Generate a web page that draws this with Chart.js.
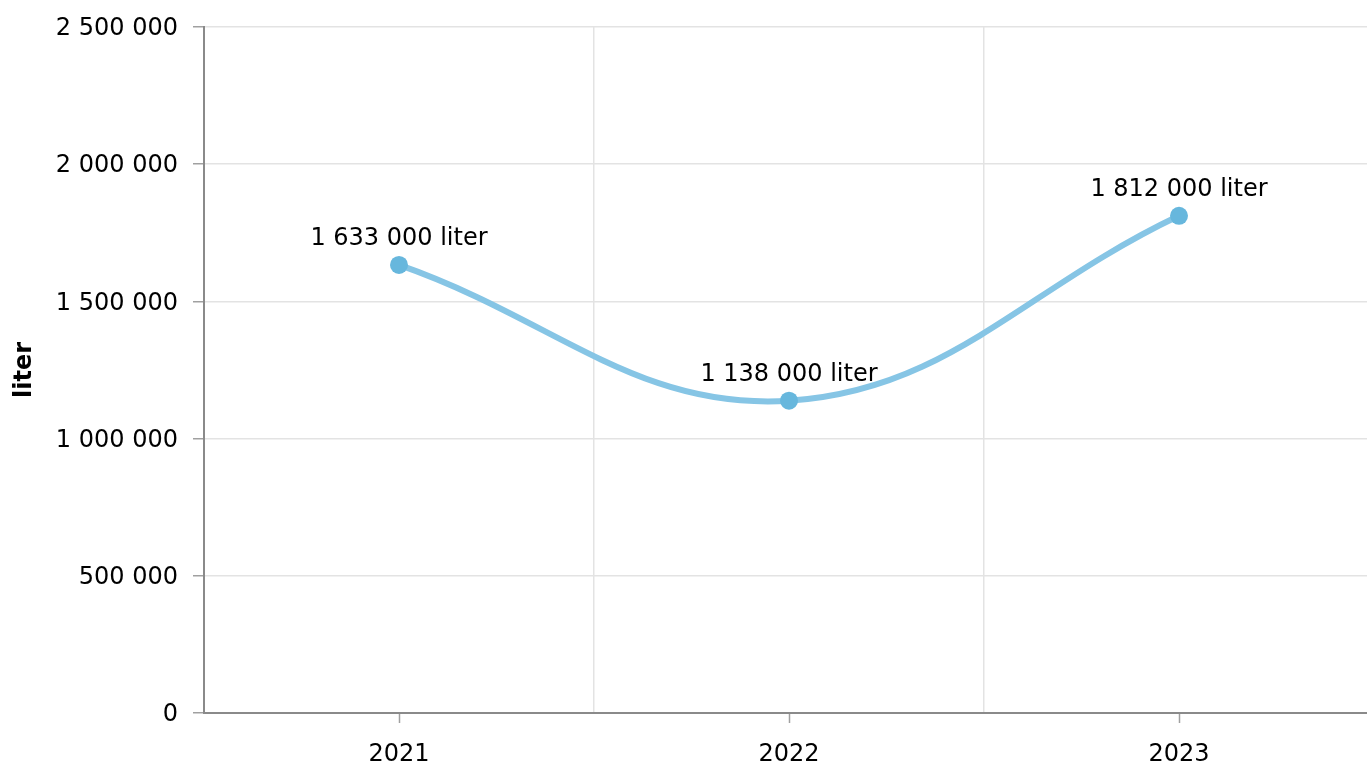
<!DOCTYPE html>
<html>
<head>
<meta charset="utf-8">
<script src="https://cdn.jsdelivr.net/npm/chart.js@4.4.1/dist/chart.umd.min.js"></script>
<style>
  html, body { margin: 0; padding: 0; background: #fff; overflow: hidden; }
  #container { position: relative; width: 1374px; height: 765px; }
</style>
</head>
<body>
<div id="container"><canvas id="graph"></canvas></div>
<script>
let years = ['2021', '2022', '2023'];
let volumes = [1633000, 1138000, 1812000];
let yTicks = [0, 500000, 1000000, 1500000, 2000000, 2500000];
let unit = 'liter';

function spaced(n) {
    return String(Math.round(n)).replace(/\B(?=(\d{3})+(?!\d))/g, ' ');
}

// labels above each point, placed from the point elements
const pointLabels = {
    id: 'pointLabels',
    afterDatasetsDraw(chart) {
        const ctx = chart.ctx;
        const meta = chart.getDatasetMeta(0);
        ctx.save();
        ctx.font = '24px "DejaVu Sans"';
        ctx.fillStyle = '#000';
        ctx.textAlign = 'center';
        ctx.textBaseline = 'middle';
        meta.data.forEach(function (pt, i) {
            ctx.fillText(spaced(volumes[i]) + ' ' + unit, pt.x, pt.y - 26);
        });
        ctx.restore();
    }
};

Chart.defaults.font.family = '"DejaVu Sans"';
Chart.defaults.font.size = 24;
Chart.defaults.color = '#000';

const ctx = document.getElementById('graph').getContext('2d');
const dataChart = new Chart(ctx, {
    type: 'line',
    data: {
        labels: years,
        datasets: [{
            label: unit,
            data: volumes,
            borderColor: '#86c5e5',
            borderWidth: 6,
            backgroundColor: '#67b7dd',
            pointBackgroundColor: '#67b7dd',
            pointBorderWidth: 0,
            pointRadius: 9,
            tension: 0.4,
            fill: false
        }]
    },
    options: {
        responsive: true,
        maintainAspectRatio: false,
        animation: false,
        // the plot runs a little past the right edge of the picture
        layout: { autoPadding: false, padding: { top: 27, right: 0, bottom: 0, left: 0 } },
        plugins: {
            legend: { display: false },
            tooltip: { enabled: false }
        },
        scales: {
            x: {
                type: 'category',
                offset: true,
                afterFit: function (scale) {
                    scale.height = 52;
                    scale.paddingLeft = 0;
                    scale.paddingRight = 0;
                },
                grid: {
                    offset: false,
                    drawOnChartArea: false,
                    drawTicks: true,
                    tickLength: 10,
                    tickColor: '#a0a0a0',
                    tickWidth: 1.5
                },
                border: { color: '#8a8a8a', width: 2 },
                ticks: { padding: 17, color: '#000' }
            },
            xgrid: {
                type: 'category',
                position: 'top',
                offset: true,
                afterFit: function (scale) {
                    scale.height = 0;
                    scale.paddingLeft = 0;
                    scale.paddingRight = 0;
                },
                grid: {
                    offset: true,
                    drawTicks: false,
                    color: '#e3e3e3',
                    lineWidth: 1.5
                },
                border: { display: false },
                ticks: { display: false }
            },
            y: {
                min: 0,
                max: 2500000,
                afterFit: function (scale) {
                    scale.width = 204;
                    scale.paddingTop = 12;
                    scale.paddingBottom = 0;
                },
                afterBuildTicks: function (scale) {
                    scale.ticks = yTicks.map(function (v) { return { value: v }; });
                },
                grid: {
                    color: '#e3e3e3',
                    lineWidth: 1.5,
                    tickLength: 11,
                    tickColor: '#a0a0a0'
                },
                border: { color: '#8a8a8a', width: 2 },
                ticks: {
                    padding: 15,
                    labelOffset: 2,
                    color: '#000',
                    callback: function (value) { return spaced(value); }
                },
                title: {
                    display: true,
                    text: unit,
                    color: '#000',
                    font: { weight: 'bold', size: 24 },
                    padding: { top: 10, bottom: 4 }
                }
            }
        }
    },
    plugins: [pointLabels]
});
</script>
</body>
</html>
